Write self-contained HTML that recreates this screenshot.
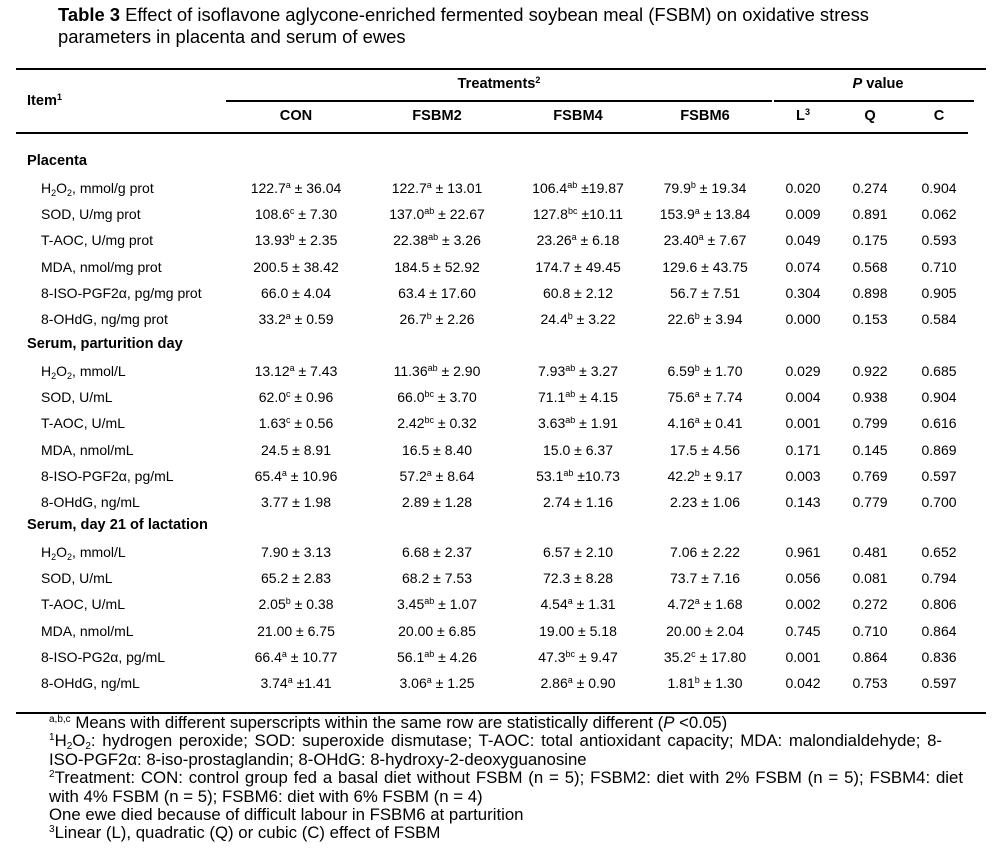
<!DOCTYPE html>
<html><head><meta charset="utf-8"><style>
body{margin:0;width:996px;height:855px;background:#fff;font-family:"Liberation Sans",Arial,sans-serif;color:#000;position:relative;overflow:hidden}
.a{position:absolute;white-space:nowrap}
.t{font-size:14px;line-height:16px}
.h{font-size:14.6px}
.c{transform:translateX(-50%)}
.b{font-weight:bold}
.rule{position:absolute;height:1.5px;background:#000}
sup{font-size:9px;vertical-align:5px;line-height:0}
sub{font-size:9px;vertical-align:-3px;line-height:0}
.fn{position:absolute;left:49px;font-size:16.8px;line-height:18px;white-space:nowrap}
.fn sup{font-size:10px;vertical-align:6px}
.fn sub{font-size:10px}
.j{text-align:justify;text-align-last:justify}
</style></head><body>
<div class="a" style="left:58px;top:4px;font-size:18.4px;line-height:22px"><b>Table 3</b> Effect of isoflavone aglycone-enriched fermented soybean meal (FSBM) on oxidative stress<br>parameters in placenta and serum of ewes</div>
<div class="rule" style="left:16px;top:68px;width:970px"></div>
<div class="rule" style="left:226px;top:100px;width:546px"></div>
<div class="rule" style="left:774px;top:100px;width:200px"></div>
<div class="rule" style="left:16px;top:132px;width:952px"></div>
<div class="rule" style="left:16px;top:712px;width:970px"></div>
<div class="a t h b" style="left:27px;top:93px">Item<sup>1</sup></div>
<div class="a t h b c" style="left:499px;top:76px">Treatments<sup>2</sup></div>
<div class="a t h b c" style="left:878px;top:76px"><i>P</i> value</div>
<div id="cols"></div>
<div id="rows"></div>
<div>
<div class="fn" style="top:714px"><sup>a,b,c</sup> Means with different superscripts within the same row are statistically different (<i>P</i> &lt;0.05)</div>
<div class="fn j" style="top:732px;width:893px"><sup>1</sup>H<sub>2</sub>O<sub>2</sub>: hydrogen peroxide; SOD: superoxide dismutase; T-AOC: total antioxidant capacity; MDA: malondialdehyde; 8-</div>
<div class="fn" style="top:751px">ISO-PGF2α: 8-iso-prostaglandin; 8-OHdG: 8-hydroxy-2-deoxyguanosine</div>
<div class="fn j" style="top:769px;width:914px"><sup>2</sup>Treatment: CON: control group fed a basal diet without FSBM (n = 5); FSBM2: diet with 2% FSBM (n = 5); FSBM4: diet</div>
<div class="fn" style="top:788px">with 4% FSBM (n = 5); FSBM6: diet with 6% FSBM (n = 4)</div>
<div class="fn" style="top:806px">One ewe died because of difficult labour in FSBM6 at parturition</div>
<div class="fn" style="top:824px"><sup>3</sup>Linear (L), quadratic (Q) or cubic (C) effect of FSBM</div>
</div>
<script>
const colNames=["CON","FSBM2","FSBM4","FSBM6","L<sup>3</sup>","Q","C"];
const colX=[296,437,578,705,803,870,939];
const sections=[
 {title:"Placenta",y:161,rows:[
 ["H<sub>2</sub>O<sub>2</sub>, mmol/g prot","122.7<sup>a</sup> ± 36.04","122.7<sup>a</sup> ± 13.01","106.4<sup>ab</sup> ±19.87","79.9<sup>b</sup> ± 19.34","0.020","0.274","0.904"],
 ["SOD, U/mg prot","108.6<sup>c</sup> ± 7.30","137.0<sup>ab</sup> ± 22.67","127.8<sup>bc</sup> ±10.11","153.9<sup>a</sup> ± 13.84","0.009","0.891","0.062"],
 ["T-AOC, U/mg prot","13.93<sup>b</sup> ± 2.35","22.38<sup>ab</sup> ± 3.26","23.26<sup>a</sup> ± 6.18","23.40<sup>a</sup> ± 7.67","0.049","0.175","0.593"],
 ["MDA, nmol/mg prot","200.5 ± 38.42","184.5 ± 52.92","174.7 ± 49.45","129.6 ± 43.75","0.074","0.568","0.710"],
 ["8-ISO-PGF2α, pg/mg prot","66.0 ± 4.04","63.4 ± 17.60","60.8 ± 2.12","56.7 ± 7.51","0.304","0.898","0.905"],
 ["8-OHdG, ng/mg prot","33.2<sup>a</sup> ± 0.59","26.7<sup>b</sup> ± 2.26","24.4<sup>b</sup> ± 3.22","22.6<sup>b</sup> ± 3.94","0.000","0.153","0.584"]]},
 {title:"Serum, parturition day",y:344,rows:[
 ["H<sub>2</sub>O<sub>2</sub>, mmol/L","13.12<sup>a</sup> ± 7.43","11.36<sup>ab</sup> ± 2.90","7.93<sup>ab</sup> ± 3.27","6.59<sup>b</sup> ± 1.70","0.029","0.922","0.685"],
 ["SOD, U/mL","62.0<sup>c</sup> ± 0.96","66.0<sup>bc</sup> ± 3.70","71.1<sup>ab</sup> ± 4.15","75.6<sup>a</sup> ± 7.74","0.004","0.938","0.904"],
 ["T-AOC, U/mL","1.63<sup>c</sup> ± 0.56","2.42<sup>bc</sup> ± 0.32","3.63<sup>ab</sup> ± 1.91","4.16<sup>a</sup> ± 0.41","0.001","0.799","0.616"],
 ["MDA, nmol/mL","24.5 ± 8.91","16.5 ± 8.40","15.0 ± 6.37","17.5 ± 4.56","0.171","0.145","0.869"],
 ["8-ISO-PGF2α, pg/mL","65.4<sup>a</sup> ± 10.96","57.2<sup>a</sup> ± 8.64","53.1<sup>ab</sup> ±10.73","42.2<sup>b</sup> ± 9.17","0.003","0.769","0.597"],
 ["8-OHdG, ng/mL","3.77 ± 1.98","2.89 ± 1.28","2.74 ± 1.16","2.23 ± 1.06","0.143","0.779","0.700"]]},
 {title:"Serum, day 21 of lactation",y:525,rows:[
 ["H<sub>2</sub>O<sub>2</sub>, mmol/L","7.90 ± 3.13","6.68 ± 2.37","6.57 ± 2.10","7.06 ± 2.22","0.961","0.481","0.652"],
 ["SOD, U/mL","65.2 ± 2.83","68.2 ± 7.53","72.3 ± 8.28","73.7 ± 7.16","0.056","0.081","0.794"],
 ["T-AOC, U/mL","2.05<sup>b</sup> ± 0.38","3.45<sup>ab</sup> ± 1.07","4.54<sup>a</sup> ± 1.31","4.72<sup>a</sup> ± 1.68","0.002","0.272","0.806"],
 ["MDA, nmol/mL","21.00 ± 6.75","20.00 ± 6.85","19.00 ± 5.18","20.00 ± 2.04","0.745","0.710","0.864"],
 ["8-ISO-PG2α, pg/mL","66.4<sup>a</sup> ± 10.77","56.1<sup>ab</sup> ± 4.26","47.3<sup>bc</sup> ± 9.47","35.2<sup>c</sup> ± 17.80","0.001","0.864","0.836"],
 ["8-OHdG, ng/mL","3.74<sup>a</sup> ±1.41","3.06<sup>a</sup> ± 1.25","2.86<sup>a</sup> ± 0.90","1.81<sup>b</sup> ± 1.30","0.042","0.753","0.597"]]}
];
const cols=document.getElementById('cols');
colNames.forEach((n,i)=>{
 const d=document.createElement('div');
 d.className='a t h b c';d.style.left=colX[i]+'px';d.style.top='108px';d.innerHTML=n;
 
 
 cols.appendChild(d);
});
const rows=document.getElementById('rows');
sections.forEach(s=>{
 const h=document.createElement('div');
 h.className='a t h b';h.style.left='27px';h.style.top=(s.y-8)+'px';h.textContent=s.title;
 
 
 rows.appendChild(h);
 s.rows.forEach((r,k)=>{
  const y=s.y+27+k*26.2-8;
  const l=document.createElement('div');
  l.className='a t';l.style.left='41px';l.style.top=y+'px';l.innerHTML=r[0];
  
  
  rows.appendChild(l);
  for(let i=1;i<r.length;i++){
   const c=document.createElement('div');
   c.className='a t c';c.style.left=colX[i-1]+'px';c.style.top=y+'px';c.innerHTML=r[i];
   
   
   rows.appendChild(c);
  }
 });
});
</script>
</body></html>
